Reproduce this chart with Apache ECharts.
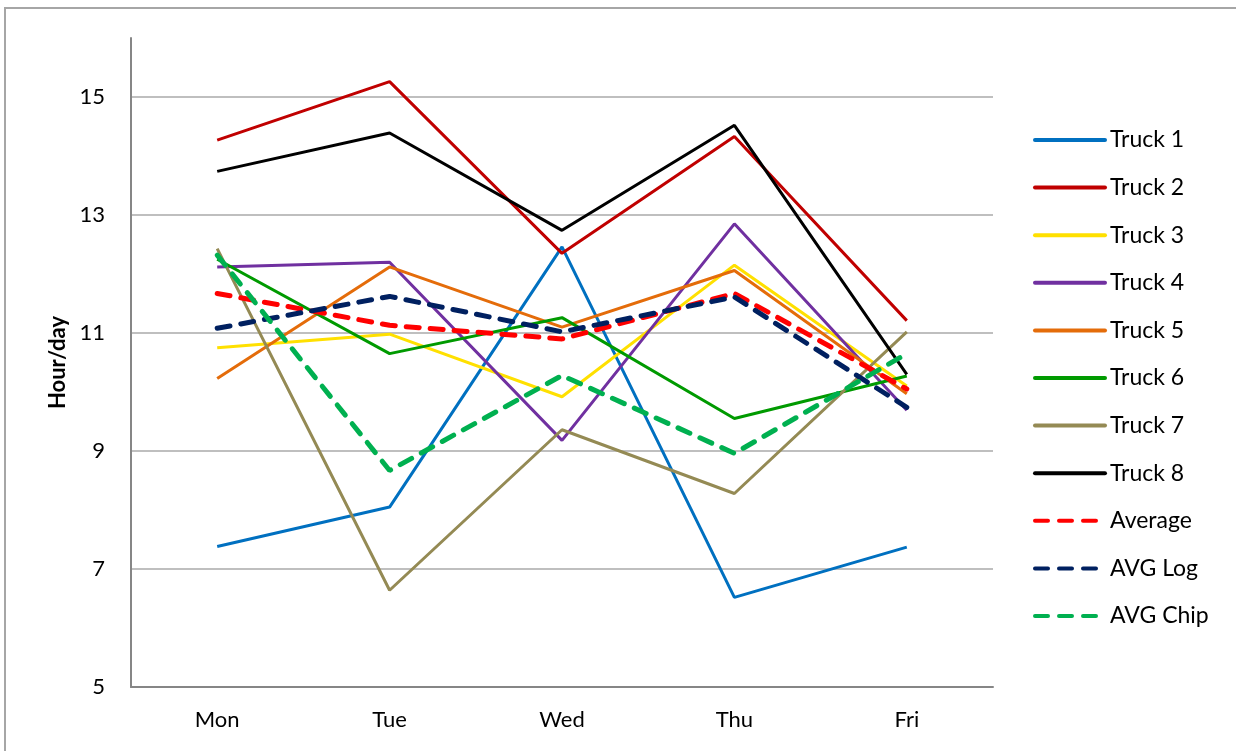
<!DOCTYPE html>
<html>
<head>
<meta charset="utf-8">
<script src="https://cdn.jsdelivr.net/npm/echarts@6/dist/echarts.min.js"></script>
<style>
  body { margin: 0; background: #fff; }
  #wrap { position: relative; width: 1236px; height: 751px; overflow: hidden; }
  #frame {
    position: absolute; left: 4px; top: 7px; width: 1300px; height: 800px;
    border-top: 2px solid #a6a6a6; border-left: 2px solid #a6a6a6;
  }
  #chart { position: absolute; left: 0; top: 0; width: 1236px; height: 751px; }
</style>
</head>
<body>
<div id="wrap">
  <div id="frame"></div>
  <div id="chart"></div>
</div>
<script>
// 数据
const days = ["Mon", "Tue", "Wed", "Thu", "Fri"];
const truck1 = [7.38, 8.05, 12.46, 6.52, 7.37];
const truck2 = [14.27, 15.26, 12.35, 14.33, 11.21];
const truck3 = [10.75, 10.98, 9.92, 12.15, 10.1];
const truck4 = [12.12, 12.2, 9.18, 12.85, 9.69];
const truck5 = [10.23, 12.12, 11.1, 12.06, 9.97];
const truck6 = [12.25, 10.65, 11.26, 9.55, 10.27];
const truck7 = [12.43, 6.64, 9.36, 8.28, 11.02];
const truck8 = [13.74, 14.39, 12.74, 14.52, 10.3];
const average = [11.67, 11.13, 10.9, 11.67, 10.05];
const avgLog = [11.08, 11.62, 11.02, 11.61, 9.74];
const avgChip = [12.32, 8.67, 10.28, 8.96, 10.65];

const font = "Lato, 'Open Sans', sans-serif";

function solid(name, data, color) {
  return {
    name: name,
    type: "line",
    data: data,
    symbol: "none",
    lineStyle: { width: 3, color: color },
    itemStyle: { color: color },
  };
}
function dashed(name, data, color) {
  return {
    name: name,
    type: "line",
    data: data,
    symbol: "none",
    lineStyle: { width: 5, color: color, type: [13, 11], cap: "round" },
    itemStyle: { color: color },
  };
}

const myChart = echarts.init(document.getElementById("chart"));
const option = {
  animation: false,
  grid: { left: 131, right: 243, top: 38, bottom: 64 },
  legend: {
    orient: "vertical",
    left: 1028,
    top: 123,
    itemWidth: 70,
    itemHeight: 14,
    itemGap: 23.6,
    itemStyle: { opacity: 0 },
    lineStyle: { width: 4, type: "inherit", cap: "round" },
    textStyle: { fontFamily: font, fontSize: 23, color: "#000", lineHeight: 24 },
  },
  xAxis: {
    type: "category",
    data: days,
    boundaryGap: true,
    axisTick: { show: false },
    axisLine: { lineStyle: { color: "#868686", width: 2 } },
    axisLabel: { fontFamily: font, fontSize: 22, color: "#000", margin: 22 },
  },
  yAxis: {
    type: "value",
    min: 5,
    max: 16,
    interval: 2,
    name: "Hour/day",
    nameLocation: "middle",
    nameGap: 60,
    nameTextStyle: { fontFamily: font, fontSize: 22, fontWeight: "bold", color: "#000" },
    axisLine: { show: true, lineStyle: { color: "#868686", width: 2 } },
    axisTick: { show: false },
    axisLabel: { fontFamily: font, fontSize: 22, color: "#000", margin: 26, showMaxLabel: false },
    splitLine: { showMaxLine: false, lineStyle: { color: "#bfbfbf", width: 2 } },
  },
  series: [
    solid("Truck 1", truck1, "#0070C0"),
    solid("Truck 2", truck2, "#C00000"),
    solid("Truck 3", truck3, "#FFE000"),
    solid("Truck 4", truck4, "#7030A0"),
    solid("Truck 5", truck5, "#E46C0A"),
    solid("Truck 6", truck6, "#009A00"),
    solid("Truck 7", truck7, "#948A54"),
    solid("Truck 8", truck8, "#000000"),
    dashed("Average", average, "#FF0000"),
    dashed("AVG Log", avgLog, "#002060"),
    dashed("AVG Chip", avgChip, "#00B050"),
  ],
};
myChart.setOption(option);
</script>
</body>
</html>
